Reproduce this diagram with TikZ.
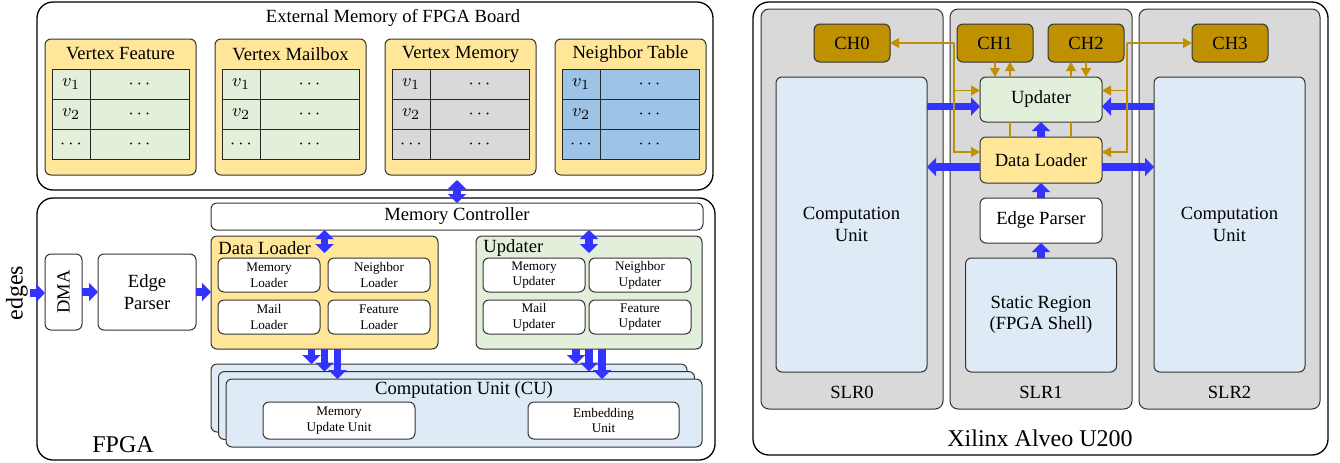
\documentclass[tikz,border=0pt]{standalone}
\usepackage{fontspec}
\usepackage{graphicx}
\setmainfont{Liberation Serif}
\usetikzlibrary{arrows.meta,calc,positioning}

\definecolor{memyellow}{HTML}{FFE699}
\definecolor{tabgreen}{HTML}{E2EFDA}
\definecolor{tabgray}{HTML}{D9D9D9}
\definecolor{tabblue}{HTML}{9DC3E6}
\definecolor{cublue}{HTML}{DEEBF7}
\definecolor{slrgray}{HTML}{D9D9D9}
\definecolor{chgold}{HTML}{BF9000}
\definecolor{busblue}{HTML}{3333FF}

\newcommand{\mainsz}{\fontsize{9.3}{10.8}\selectfont}
\newcommand{\tinysz}{\fontsize{6.6}{7.9}\selectfont}
\newcommand{\bigsz}{\fontsize{12}{14}\selectfont}

\tikzset{
    outer frame/.style = {
        draw = black,
        line width = 0.65pt,
        rounded corners = 8pt,
        inner sep = 0pt,
        outer sep = 0pt,
        },
    box/.style = {
        draw = black!80,
        line width = 0.5pt,
        rounded corners = 3pt,
        inner sep = 0pt,
        outer sep = 0pt,
        align = center,
        font = \mainsz,
        },
    sz/.style 2 args = {
        minimum width = #1*0.5pt,
        minimum height = #2*0.5pt,
        },
    membox/.style = {
        box,
        fill = memyellow,
        anchor = north west,
        },
    cell/.style = {
        draw = black!85,
        line width = 0.5pt,
        inner sep = 0pt,
        outer sep = 0pt,
        anchor = north west,
        font = \mainsz,
        },
    subbox/.style = {
        box,
        fill = white,
        font = \tinysz,
        sz = {102}{34},
        },
    cubox/.style = {
        box,
        fill = cublue,
        },
    slr/.style = {
        box,
        fill = slrgray,
        rounded corners = 4pt,
        },
    chbox/.style = {
        box,
        fill = chgold,
        sz = {76}{38},
        },
    title/.style = {
        font = \mainsz,
        inner sep = 0pt,
        },
    bus/.style = {
        draw = busblue,
        line width = 3.8pt,
        -{Triangle[length=4.5pt,width=9pt]},
        },
    bus2/.style = {
        bus,
        {Triangle[length=4.5pt,width=9pt]}-{Triangle[length=4.5pt,width=9pt]},
        },
    goldarr/.style = {
        draw = chgold,
        line width = 0.6pt,
        -{Triangle[length=4.5pt,width=5pt]},
        },
    goldline/.style = {
        draw = chgold,
        line width = 0.6pt,
        },
}

\begin{document}
\begin{tikzpicture}[x=0.5pt, y=-0.5pt]
    \useasboundingbox (0,0) rectangle (1340,462);

    % external memory
    \node[outer frame, anchor=north west, sz={676}{188}] (extmem) at (37,2) {};
    \node[title] (extmem-title) at (393,18) {External Memory of FPGA Board};
    \foreach \tx/\ttl/\tcol [count=\k from 0] in {vf/Vertex Feature/tabgreen, vmb/Vertex Mailbox/tabgreen, vmem/Vertex Memory/tabgray, nt/Neighbor Table/tabblue}{
        \node[membox, sz={151}{136}] (\tx) at ({45+170*\k},39) {};
        \node[title] (\tx-title) at ({120.5+170*\k},54) {\ttl};
        \foreach \r/\lab in {1/$v_1$, 2/$v_2$, 3/$\cdots$}{
            \node[cell, fill=\tcol, sz={38}{30.33}] (\tx-\r-a) at ({52+170*\k},{69+30.33*(\r-1)}) {\lab};
            \node[cell, fill=\tcol, sz={99}{30.33}] (\tx-\r-b) at (\tx-\r-a.north east) {$\cdots$};
        }
    }

    % fpga
    \node[outer frame, anchor=north west, sz={678}{262}] (fpga) at (37,198) {};
    \node[font=\bigsz] (fpga-label) at (123,445) {FPGA};
    \node[font=\bigsz, rotate=90, inner sep=1pt] (edges) at (17,293) {edges};
    \node[box, anchor=north west, sz={37}{76}] (dma) at (45,254) {\rotatebox{90}{DMA}};
    \node[box, sz={98}{76}, right=8pt of dma] (ep) {Edge\\Parser};
    \node[box, anchor=north west, sz={492}{27}] (memctrl) at (211,203) {Memory Controller};

    \node[box, fill=memyellow, anchor=north west, sz={227}{113}] (dl) at (211,236) {};
    \node[title, anchor=west] (dl-title) at (218,248) {Data Loader};
    \node[subbox, anchor=north west] (mload) at (218,258) {Memory\\Loader};
    \node[subbox, right=4pt of mload] (nload) {Neighbor\\Loader};
    \node[subbox, below=4pt of mload] (mailload) {Mail\\Loader};
    \node[subbox, right=4pt of mailload] (fload) {Feature\\Loader};

    \node[box, fill=tabgreen, anchor=north west, sz={226}{113}] (upd) at (476,236) {};
    \node[title, anchor=west] (upd-title) at (483,248) {Updater};
    \node[subbox, anchor=north west] (mupd) at (483,258) {Memory\\Updater};
    \node[subbox, right=2pt of mupd] (nupd) {Neighbor\\Updater};
    \node[subbox, below=4pt of mupd] (mailupd) {Mail\\Updater};
    \node[subbox, right=2pt of mailupd] (fupd) {Feature\\Updater};

    \node[cubox, anchor=north west, sz={476}{68}] (cu-back) at (211,364) {};
    \node[cubox, anchor=north west, sz={476}{68}] (cu-mid) at (218.5,371.5) {};
    \node[cubox, anchor=north west, sz={476}{68}] (cu) at (226,379) {};
    \node[title] (cu-title) at (464,390) {Computation Unit (CU)};
    \node[subbox, anchor=north west, sz={152}{37}] (muu) at (263,402) {Memory\\Update Unit};
    \node[subbox, anchor=north west, sz={151}{37}] (emb) at (528,402) {Embedding\\Unit};

    \draw[bus2] ($(extmem.south -| memctrl.north)+(0,-10)$) -- (memctrl.north);
    \draw[bus2] (dl.north |- memctrl.south) -- ($(dl.north)+(0,17)$);
    \draw[bus2] (upd.north |- memctrl.south) -- ($(upd.north)+(0,17)$);
    \draw[bus] (edges.south) -- (edges.south -| dma.west);
    \draw[bus] (dma.east) -- (ep.west);
    \draw[bus] (ep.east) -- (ep.east -| dl.west);
    \foreach \dx/\tgt in {-13/cu-back, 0/cu-mid, 13/cu}{
        \draw[bus] ($(dl.south)+(\dx,0)$) -- ($(dl.south |- \tgt.north)+(\dx,0)$);
        \draw[bus] ($(upd.south)+(\dx,0)$) -- ($(upd.south |- \tgt.north)+(\dx,0)$);
    }

    % alveo board
    \node[outer frame, anchor=north west, sz={575}{453}] (board) at (753,2) {};
    \node[font=\bigsz] (board-label) at (1040,438) {Xilinx Alveo U200};
    \node[slr, anchor=north west, sz={182}{400}] (slr0) at (761,9) {};
    \node[slr, sz={182}{400}, right=3.5pt of slr0] (slr1) {};
    \node[slr, sz={181}{400}, right=3.5pt of slr1] (slr2) {};
    \foreach \s in {0,1,2}
        \node[title] (slr\s-label) at ($(slr\s.south)+(0,-17)$) {SLR\s};

    \node[chbox, anchor=north west] (ch0) at (814,24) {CH0};
    \node[chbox, anchor=north west] (ch1) at (957,24) {CH1};
    \node[chbox, anchor=north west] (ch2) at (1048,24) {CH2};
    \node[chbox, anchor=north west] (ch3) at (1192,24) {CH3};

    \node[cubox, anchor=north west, sz={151}{295}] (cu0) at (776,77) {Computation\\Unit};
    \node[cubox, anchor=north west, sz={151}{295}] (cu2) at (1154,77) {Computation\\Unit};
    \node[box, fill=tabgreen, anchor=north west, sz={122}{45}] (updr) at (980,77) {Updater};
    \node[box, fill=memyellow, sz={122}{46}, below=7.5pt of updr] (dlr) {Data Loader};
    \node[box, fill=white, sz={122}{45}, below=7.5pt of dlr] (epr) {Edge Parser};
    \node[cubox, sz={151}{114}, below=7.5pt of epr] (static) {Static Region\\(FPGA Shell)};

    \draw[bus] ($(updr.west -| cu0.east)+(0,7)$) -- ($(updr.west)+(0,7)$);
    \draw[bus] ($(dlr.west)+(0,7)$) -- ($(dlr.west -| cu0.east)+(0,7)$);
    \draw[bus] ($(updr.east -| cu2.west)+(0,7)$) -- ($(updr.east)+(0,7)$);
    \draw[bus] ($(dlr.east)+(0,7)$) -- ($(dlr.east -| cu2.west)+(0,7)$);
    \draw[bus] (dlr.north) -- (updr.south);
    \draw[bus] (epr.north) -- (dlr.south);
    \draw[bus] (static.north) -- (epr.south);

    % memory channels
    \coordinate (ch1-up) at ($(ch1.south)+(15,0)$);
    \coordinate (ch2-up) at ($(ch2.south)+(-15,0)$);
    \draw[goldarr] (ch1.south) -- (ch1.south |- updr.north);
    \draw[goldarr] (ch2.south) -- (ch2.south |- updr.north);
    \draw[goldline] (ch1-up |- dlr.north) -- (ch1-up |- updr.south);
    \draw[goldline] (ch2-up |- dlr.north) -- (ch2-up |- updr.south);
    \draw[goldarr] (ch1-up |- updr.north) -- (ch1-up);
    \draw[goldarr] (ch2-up |- updr.north) -- (ch2-up);

    \coordinate (ch0-tap) at ($(ch0.east)+(64,0)$);
    \coordinate (ch3-tap) at ($(ch3.west)+(-65,0)$);
    \draw[goldarr] (ch0-tap) -- (ch0.east);
    \draw[goldarr] (ch0-tap) |- ($(updr.west)+(0,-9)$);
    \draw[goldarr] (ch0-tap) |- ($(dlr.west)+(0,-8)$);
    \draw[goldarr] (ch3-tap) -- (ch3.west);
    \draw[goldarr] (ch3-tap) |- ($(updr.east)+(0,-9)$);
    \draw[goldarr] (ch3-tap) |- ($(dlr.east)+(0,-8)$);
\end{tikzpicture}
\end{document}
